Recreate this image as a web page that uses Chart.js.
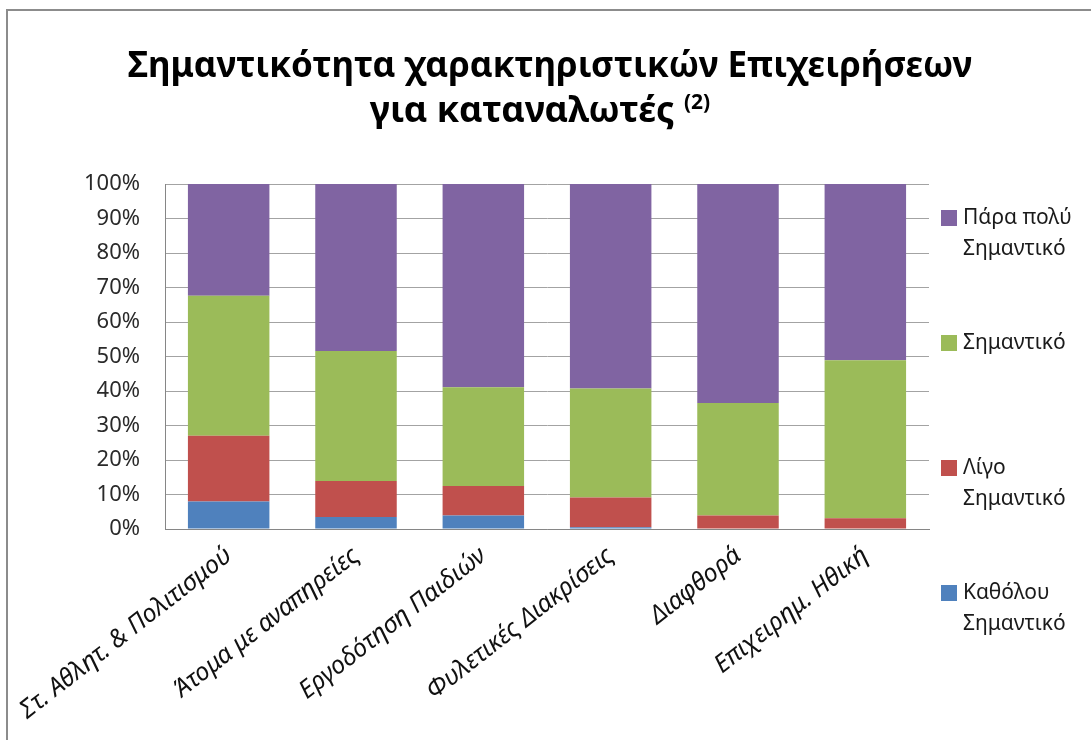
<!DOCTYPE html>
<html>
<head>
<meta charset="utf-8">
<title>Σημαντικότητα χαρακτηριστικών Επιχειρήσεων</title>
<script src="https://cdn.jsdelivr.net/npm/chart.js@4.4.1/dist/chart.umd.min.js"></script>
<style>
  html, body { margin: 0; padding: 0; background: #fff; overflow: hidden; }
  #frame {
    position: absolute; left: 6px; top: 9px; width: 1200px; height: 900px;
    border-left: 2px solid #8c8c8c; border-top: 2px solid #8c8c8c;
  }
  #chart-container { position: absolute; left: 0; top: 0; width: 1091px; height: 740px; }
</style>
</head>
<body>
<div id="frame"></div>
<div id="chart-container"><canvas id="chart" width="1091" height="740"></canvas></div>
<script>
const FONT = "'Noto Sans', 'Open Sans', 'DejaVu Sans', sans-serif";

const titleLines = ["Σημαντικότητα χαρακτηριστικών Επιχειρήσεων", "για καταναλωτές"];
const titleNote = "(2)";

const categories = [
  "Στ. Αθλητ. & Πολιτισμού",
  "Άτομα με αναπηρείες",
  "Εργοδότηση Παιδιών",
  "Φυλετικές Διακρίσεις",
  "Διαφθορά",
  "Επιχειρημ. Ηθική"
];

const seriesNames = ["Καθόλου Σημαντικό", "Λίγο Σημαντικό", "Σημαντικό", "Πάρα πολύ Σημαντικό"];
const seriesColors = ["#4F81BD", "#C0504D", "#9BBB59", "#8064A2"];

// percentages per category, each stack adds up to 100
const notImportant = [8.0, 3.5, 3.9, 0.5, 0.0, 0.0];
const littleImportant = [19.0, 10.4, 8.6, 8.6, 3.9, 3.1];
const important = [40.6, 37.7, 28.6, 31.6, 32.6, 45.8];
const veryImportant = [32.4, 48.4, 58.9, 59.3, 63.5, 51.1];

const yTicks = [0, 10, 20, 30, 40, 50, 60, 70, 80, 90, 100];

// title with a raised footnote marker on the second line
const titlePlugin = {
  id: "titleBlock",
  afterDraw(chart) {
    const ctx = chart.ctx;
    ctx.save();
    ctx.fillStyle = "#000";
    ctx.textBaseline = "alphabetic";
    ctx.font = "bold 35px " + FONT;
    ctx.textAlign = "center";
    ctx.fillText(titleLines[0], 550, 77);

    ctx.font = "bold 36px " + FONT;
    const w2 = ctx.measureText(titleLines[1] + " ").width;
    ctx.font = "bold 21px " + FONT;
    const wn = ctx.measureText(titleNote).width;
    const start = 540 - (w2 + wn) / 2;
    ctx.textAlign = "left";
    ctx.font = "bold 36px " + FONT;
    ctx.fillText(titleLines[1], start, 122);
    ctx.font = "bold 21px " + FONT;
    ctx.fillText(titleNote, start + w2, 109);
    ctx.restore();
  }
};

// legend on the right, top series first, labels wrapped onto two lines
const legendPlugin = {
  id: "sideLegend",
  afterDraw(chart) {
    const ctx = chart.ctx;
    const sets = chart.data.datasets.slice().reverse();
    ctx.save();
    ctx.font = "21px " + FONT;
    ctx.textBaseline = "middle";
    ctx.textAlign = "left";
    sets.forEach((ds, i) => {
      const cy = 218 + i * 125;
      ctx.fillStyle = ds.backgroundColor;
      ctx.fillRect(941, cy - 8, 16, 16);
      const words = ds.label.split(" ");
      const lines = [];
      let cur = "";
      words.forEach((w) => {
        const test = cur ? cur + " " + w : w;
        if (cur && ctx.measureText(test).width > 118) {
          lines.push(cur);
          cur = w;
        } else {
          cur = test;
        }
      });
      lines.push(cur);
      ctx.fillStyle = "#1a1a1a";
      lines.forEach((ln, j) => ctx.fillText(ln, 963, cy + j * 31));
    });
    ctx.restore();
  }
};

const datasets = [notImportant, littleImportant, important, veryImportant].map((vals, i) => ({
  label: seriesNames[i],
  data: vals,
  backgroundColor: seriesColors[i],
  borderWidth: 0,
  barPercentage: 0.64,
  categoryPercentage: 1.0
}));

new Chart(document.getElementById("chart").getContext("2d"), {
  type: "bar",
  data: { labels: categories, datasets: datasets },
  plugins: [titlePlugin, legendPlugin],
  options: {
    responsive: false,
    animation: false,
    layout: { padding: { top: 184, right: 162, bottom: 0, left: 0 } },
    plugins: {
      legend: { display: false },
      title: { display: false },
      tooltip: { enabled: false }
    },
    scales: {
      x: {
        stacked: true,
        grid: { display: false },
        border: { display: true, color: "#868686", width: 1 },
        ticks: {
          autoSkip: false,
          minRotation: 38,
          maxRotation: 38,
          padding: 4,
          color: "#111",
          font: { family: FONT, size: 25, style: "italic" }
        },
        afterFit(scale) { scale.height = 211; }
      },
      y: {
        stacked: true,
        min: 0,
        max: 100,
        afterBuildTicks(scale) { scale.ticks = yTicks.map((v) => ({ value: v })); },
        grid: { color: "#a3a3a3", lineWidth: 1, drawTicks: false },
        border: { display: true, color: "#868686", width: 1 },
        ticks: {
          padding: 25,
          color: "#2a2a2a",
          font: { family: FONT, size: 22 },
          callback: (v) => v + "%"
        },
        afterFit(scale) { scale.width = 165; }
      }
    }
  }
});
</script>
</body>
</html>
